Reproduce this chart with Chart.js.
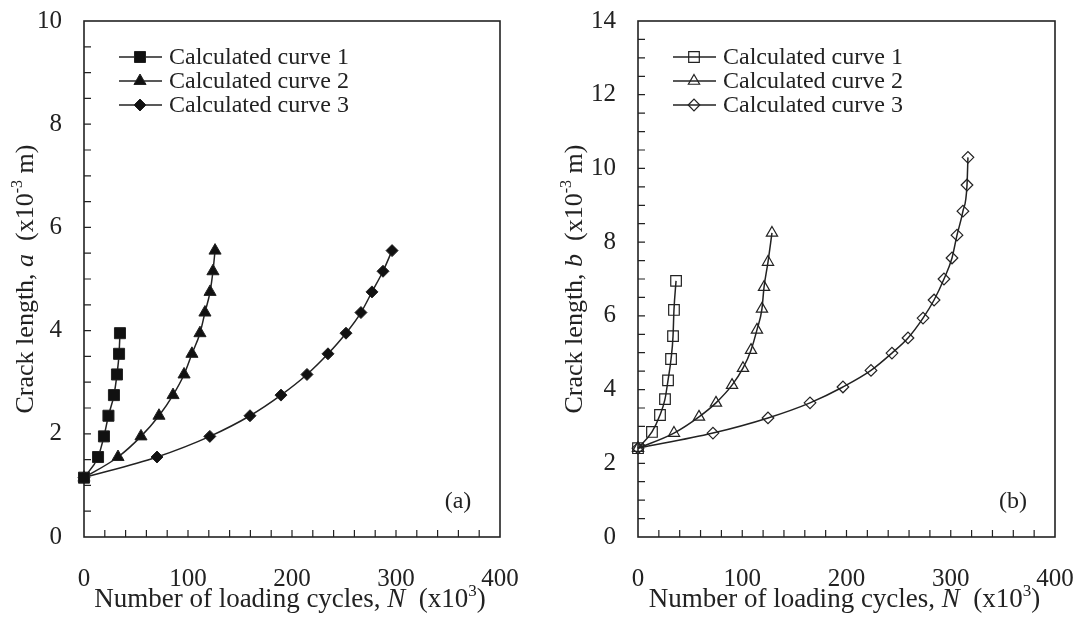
<!DOCTYPE html>
<html>
<head>
<meta charset="utf-8">
<title>Crack length vs loading cycles</title>
<script src="https://cdn.jsdelivr.net/npm/chart.js@4.4.0/dist/chart.umd.min.js"></script>
<style>
    html, body { margin: 0; padding: 0; background: #fff; }
    #wrap { position: relative; width: 1081px; height: 623px; overflow: hidden; }
    .panel { position: absolute; top: 0; height: 623px; }
    #panel-a { left: 0; width: 540px; }
    #panel-b { left: 540px; width: 541px; }
</style>
</head>
<body>
<div id="wrap">
    <div class="panel" id="panel-a"><canvas id="chart-a" width="540" height="623"></canvas></div>
    <div class="panel" id="panel-b"><canvas id="chart-b" width="541" height="623"></canvas></div>
</div>
<script>
// Data (N in 10^3 cycles, crack length in 10^-3 m)
const seriesLabels = ['Calculated curve 1', 'Calculated curve 2', 'Calculated curve 3'];
const xTicks = [0, 100, 200, 300, 400];
const yTicksA = [0, 2, 4, 6, 8, 10];
const yTicksB = [0, 2, 4, 6, 8, 10, 12, 14];

// panel (a) - crack length a
const cyclesA1 = [0, 13.5, 19.2, 23.5, 28.8, 31.7, 33.7, 34.6];
const lengthA1 = [1.15, 1.55, 1.95, 2.35, 2.75, 3.15, 3.55, 3.95];
const cyclesA2 = [0, 32.7, 54.8, 72.1, 85.6, 96.2, 103.8, 111.5, 116.3, 121.2, 124, 126];
const lengthA2 = [1.15, 1.55, 1.95, 2.35, 2.75, 3.15, 3.55, 3.95, 4.35, 4.75, 5.15, 5.55];
const cyclesA3 = [0, 70.2, 121, 159.6, 189.4, 214.4, 234.6, 251.9, 266.3, 276.9, 287.5, 296.2];
const lengthA3 = [1.15, 1.55, 1.95, 2.35, 2.75, 3.15, 3.55, 3.95, 4.35, 4.75, 5.15, 5.55];

// panel (b) - crack length b
const cyclesB1 = [0, 13.4, 21.1, 25.9, 28.8, 31.7, 33.6, 34.5, 36.5];
const lengthB1 = [2.41, 2.85, 3.31, 3.74, 4.25, 4.83, 5.45, 6.16, 6.95];
const cyclesB2 = [0, 34.5, 58.5, 74.8, 90.2, 100.7, 108.4, 114.1, 118.9, 120.9, 124.7, 128.5];
const lengthB2 = [2.41, 2.82, 3.26, 3.64, 4.12, 4.58, 5.07, 5.62, 6.19, 6.78, 7.46, 8.25];
const cyclesB3 = [0, 71.9, 124.7, 165, 196.6, 223.5, 243.6, 259, 273.4, 284, 293.5, 301.2, 306, 311.7, 315.6, 316.5];
const lengthB3 = [2.41, 2.82, 3.23, 3.64, 4.07, 4.52, 4.99, 5.40, 5.94, 6.43, 7.0, 7.57, 8.19, 8.84, 9.55, 10.3];

const FONT = '"Liberation Serif", "Times New Roman", serif';
const INK = '#222';

function pairs(xs, ys) {
    return xs.map((x, i) => ({ x: x, y: ys[i] }));
}

function makeDataset(label, xs, ys, style, radius, filled) {
    return {
        label: label,
        data: pairs(xs, ys),
        borderColor: INK,
        borderWidth: 1.5,
        pointStyle: style,
        pointRadius: radius,
        pointBorderColor: INK,
        pointBorderWidth: filled ? 1 : 1.2,
        pointBackgroundColor: filled ? '#111' : 'rgba(0,0,0,0)',
        cubicInterpolationMode: 'monotone',
        fill: false,
        clip: false
    };
}

// draws text made of pieces (normal / italic / superscript)
function drawRich(ctx, segs, cx, cy, rot, size) {
    ctx.save();
    ctx.translate(cx, cy);
    ctx.rotate(rot);
    ctx.fillStyle = INK;
    ctx.textBaseline = 'alphabetic';
    ctx.textAlign = 'left';
    const fontFor = s => (s.italic ? 'italic ' : '') + (s.sup ? Math.round(size * 0.62) : size) + 'px ' + FONT;
    let total = 0;
    segs.forEach(s => { ctx.font = fontFor(s); total += ctx.measureText(s.t).width; });
    let x = -total / 2;
    segs.forEach(s => {
        ctx.font = fontFor(s);
        ctx.fillText(s.t, x, s.sup ? -size * 0.42 : 0);
        x += ctx.measureText(s.t).width;
    });
    ctx.restore();
}

// frame box plus inward major/minor ticks
const frameTicks = {
    id: 'frameTicks',
    beforeDatasetsDraw(chart, args, opts) {
        const { ctx, chartArea: ca, scales } = chart;
        ctx.save();
        ctx.strokeStyle = INK;
        ctx.lineWidth = 1.6;
        ctx.strokeRect(ca.left, ca.top, ca.right - ca.left, ca.bottom - ca.top);
        ctx.lineWidth = 1.2;
        ctx.beginPath();
        const nx = Math.round((scales.x.max - scales.x.min) / opts.xMinor);
        for (let i = 1; i < nx; i++) {
            const px = scales.x.getPixelForValue(scales.x.min + i * opts.xMinor);
            ctx.moveTo(px, ca.bottom);
            ctx.lineTo(px, ca.bottom - 7);
        }
        const ny = Math.round((scales.y.max - scales.y.min) / opts.yMinor);
        for (let i = 1; i < ny; i++) {
            const py = scales.y.getPixelForValue(scales.y.min + i * opts.yMinor);
            ctx.moveTo(ca.left, py);
            ctx.lineTo(ca.left + 7, py);
        }
        ctx.stroke();
        ctx.restore();
    }
};

// axis titles, panel tag and the line+marker legend
const panelText = {
    id: 'panelText',
    afterDraw(chart, args, opts) {
        const { ctx, chartArea: ca } = chart;
        const midX = (ca.left + ca.right) / 2;
        const midY = (ca.top + ca.bottom) / 2;
        drawRich(ctx, opts.xTitle, midX - 2, 607, 0, 27);
        drawRich(ctx, opts.yTitle, opts.yTitleX, midY, -Math.PI / 2, 26);

        ctx.save();
        ctx.fillStyle = INK;
        ctx.font = '24px ' + FONT;
        ctx.textAlign = 'center';
        ctx.textBaseline = 'middle';
        ctx.fillText(opts.tag, ca.right - 42, ca.bottom - 35);

        chart.data.datasets.forEach((ds, i) => {
            const y = ca.top + 36 + i * 24;
            const x0 = ca.left + 35;
            ctx.strokeStyle = INK;
            ctx.lineWidth = 1.5;
            ctx.beginPath();
            ctx.moveTo(x0, y);
            ctx.lineTo(x0 + 43, y);
            ctx.stroke();
            ctx.fillStyle = ds.pointBackgroundColor;
            ctx.strokeStyle = ds.pointBorderColor;
            ctx.lineWidth = ds.pointBorderWidth;
            Chart.helpers.drawPoint(ctx, {
                pointStyle: ds.pointStyle,
                radius: ds.pointRadius,
                rotation: 0,
                borderWidth: ds.pointBorderWidth
            }, x0 + 21, y);
            ctx.fillStyle = INK;
            ctx.textAlign = 'left';
            ctx.fillText(ds.label, x0 + 50, y + 1);
        });
        ctx.restore();
    }
};

function buildChart(id, datasets, yTicks, extra) {
    const tickFont = { family: FONT, size: 25 };
    return new Chart(document.getElementById(id), {
        type: 'line',
        data: { datasets: datasets },
        plugins: [frameTicks, panelText],
        options: {
            responsive: false,
            animation: false,
            devicePixelRatio: 1,
            layout: { padding: { left: 0, right: extra.padRight, top: 21, bottom: 0 } },
            plugins: {
                legend: { display: false },
                tooltip: { enabled: false },
                frameTicks: { xMinor: 20, yMinor: 0.5 },
                panelText: extra.text
            },
            scales: {
                x: {
                    type: 'linear',
                    min: xTicks[0],
                    max: xTicks[xTicks.length - 1],
                    afterBuildTicks: s => { s.ticks = xTicks.map(v => ({ value: v })); },
                    afterFit: s => {
                        s.height = 86;
                        s.paddingLeft = 0;
                        s.paddingRight = 0;
                    },
                    grid: { display: false, drawTicks: false },
                    border: { display: false },
                    ticks: { font: tickFont, color: INK, padding: 27, maxRotation: 0 }
                },
                y: {
                    type: 'linear',
                    min: yTicks[0],
                    max: yTicks[yTicks.length - 1],
                    afterBuildTicks: s => { s.ticks = yTicks.map(v => ({ value: v })); },
                    afterFit: s => {
                        s.width = extra.yWidth;
                        s.paddingTop = 0;
                        s.paddingBottom = 0;
                    },
                    grid: { display: false, drawTicks: false },
                    border: { display: false },
                    ticks: { font: tickFont, color: INK, padding: 22 }
                }
            }
        }
    });
}

document.addEventListener('DOMContentLoaded', function() {
    const xTitle = [
        { t: 'Number of loading cycles, ' },
        { t: 'N', italic: true },
        { t: '  (x10' },
        { t: '3', sup: true },
        { t: ')' }
    ];

    buildChart('chart-a', [
        makeDataset(seriesLabels[0], cyclesA1, lengthA1, 'rect', 7.8, true),
        makeDataset(seriesLabels[1], cyclesA2, lengthA2, 'triangle', 7, true),
        makeDataset(seriesLabels[2], cyclesA3, lengthA3, 'rectRot', 6, true)
    ], yTicksA, {
        padRight: 40,
        yWidth: 84,
        text: {
            tag: '(a)',
            yTitleX: 33,
            xTitle: xTitle,
            yTitle: [
                { t: 'Crack length, ' },
                { t: 'a', italic: true },
                { t: '  (x10' },
                { t: '-3', sup: true },
                { t: ' m)' }
            ]
        }
    });

    buildChart('chart-b', [
        makeDataset(seriesLabels[0], cyclesB1, lengthB1, 'rect', 7.5, false),
        makeDataset(seriesLabels[1], cyclesB2, lengthB2, 'triangle', 6.5, false),
        makeDataset(seriesLabels[2], cyclesB3, lengthB3, 'rectRot', 5.8, false)
    ], yTicksB, {
        padRight: 26,
        yWidth: 98,
        text: {
            tag: '(b)',
            yTitleX: 42,
            xTitle: xTitle,
            yTitle: [
                { t: 'Crack length, ' },
                { t: 'b', italic: true },
                { t: '  (x10' },
                { t: '-3', sup: true },
                { t: ' m)' }
            ]
        }
    });
});
</script>
</body>
</html>
